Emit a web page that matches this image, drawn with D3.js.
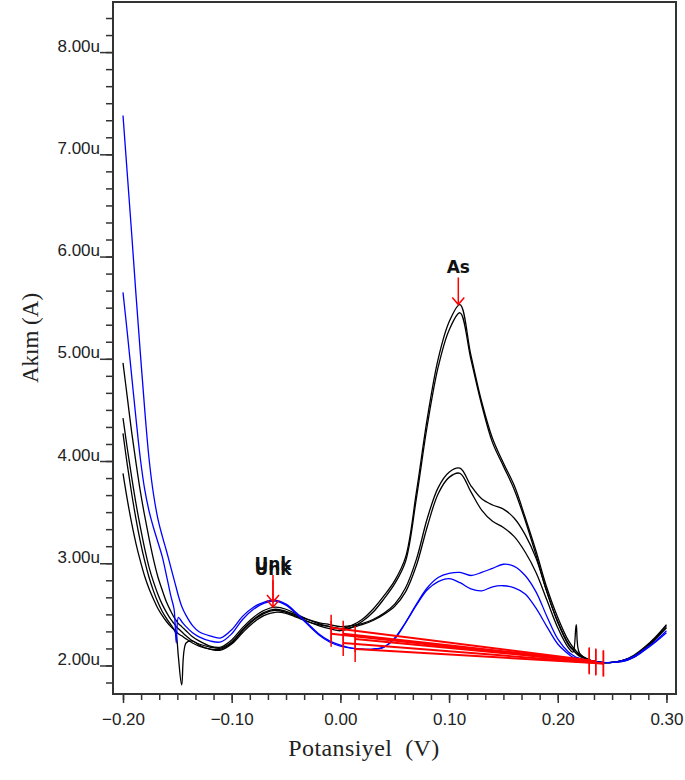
<!DOCTYPE html>
<html lang="en">
<head>
<meta charset="UTF-8">
<title>Akım - Potansiyel</title>
<script src="https://d3js.org/d3.v7.min.js"></script>
<style>
  body { margin: 0; background: #fff; }
  svg { display: block; }
  .tick text { font-family: "Liberation Sans", Arial, sans-serif; font-size: 17px; fill: #222; }
  .tick line { stroke: #333; stroke-width: 1.5; }
</style>
</head>
<body>
<div id="chart"></div>
<script>
// potential grid (V), shared by all scans
const potential = [
  -0.200, -0.196, -0.192, -0.188, -0.184, -0.180, -0.176, -0.172,
  -0.168, -0.164, -0.160, -0.156, -0.153, -0.151, -0.149, -0.146,
  -0.142, -0.136, -0.130, -0.120, -0.110, -0.100, -0.090, -0.080,
  -0.070, -0.060, -0.050, -0.040, -0.030, -0.020, -0.010, 0.000,
  0.010, 0.020, 0.030, 0.040, 0.050, 0.060, 0.070, 0.080,
  0.090, 0.100, 0.110, 0.120, 0.130, 0.140, 0.150, 0.160,
  0.170, 0.180, 0.190, 0.200, 0.210, 0.214, 0.217, 0.220,
  0.230, 0.240, 0.250, 0.260, 0.270, 0.280, 0.290, 0.300
];

// current (uA), black scans
const black1 = [
  4.96, 4.62, 4.28, 3.98, 3.70, 3.46, 3.24, 3.04,
  2.87, 2.74, 2.62, 2.53, 2.47, 2.44, 2.41, 2.38,
  2.34, 2.28, 2.24, 2.19, 2.18, 2.25, 2.37, 2.47,
  2.54, 2.57, 2.55, 2.50, 2.45, 2.41, 2.38, 2.36,
  2.39, 2.45, 2.55, 2.68, 2.83, 3.06, 3.70, 4.42,
  5.00, 5.36, 5.53, 5.04, 4.58, 4.22, 3.98, 3.76,
  3.45, 3.12, 2.76, 2.47, 2.24, 2.18, 2.14, 2.11,
  2.05, 2.03, 2.03, 2.05, 2.09, 2.17, 2.27, 2.39
];
const black2 = [
  4.42, 4.12, 3.84, 3.58, 3.35, 3.14, 2.96, 2.82,
  2.70, 2.60, 2.52, 2.45, 2.41, 2.38, 2.36, 2.33,
  2.29, 2.24, 2.21, 2.18, 2.17, 2.23, 2.35, 2.45,
  2.52, 2.55, 2.53, 2.49, 2.45, 2.42, 2.40, 2.38,
  2.39, 2.41, 2.45, 2.51, 2.60, 2.76, 3.04, 3.44,
  3.74, 3.89, 3.93, 3.76, 3.63, 3.57, 3.53, 3.44,
  3.28, 3.05, 2.72, 2.42, 2.20, 2.15, 2.12, 2.09,
  2.05, 2.03, 2.03, 2.05, 2.10, 2.18, 2.28, 2.40
];
const black3 = [
  4.27, 3.96, 3.68, 3.43, 3.21, 3.02, 2.86, 2.73,
  2.62, 2.53, 2.46, 2.40, 2.35, 2.30, 2.08, 1.81,
  2.22, 2.24, 2.20, 2.16, 2.16, 2.22, 2.34, 2.44,
  2.51, 2.54, 2.52, 2.48, 2.43, 2.39, 2.36, 2.34,
  2.37, 2.43, 2.52, 2.65, 2.80, 3.02, 3.64, 4.35,
  4.92, 5.28, 5.45, 5.00, 4.55, 4.18, 3.95, 3.72,
  3.42, 3.08, 2.72, 2.43, 2.21, 2.16, 2.12, 2.10,
  2.05, 2.03, 2.03, 2.05, 2.09, 2.16, 2.26, 2.37
];
const black4 = [
  3.88, 3.62, 3.39, 3.19, 3.02, 2.87, 2.75, 2.65,
  2.56, 2.49, 2.43, 2.38, 2.35, 2.33, 2.31, 2.29,
  2.26, 2.22, 2.19, 2.16, 2.15, 2.21, 2.32, 2.42,
  2.49, 2.52, 2.51, 2.47, 2.43, 2.40, 2.38, 2.36,
  2.37, 2.40, 2.44, 2.50, 2.58, 2.72, 2.98, 3.36,
  3.68, 3.84, 3.88, 3.70, 3.52, 3.41, 3.35, 3.26,
  3.11, 2.91, 2.64, 2.37, 2.17, 2.13, 2.40, 2.12,
  2.05, 2.03, 2.03, 2.04, 2.08, 2.16, 2.26, 2.37
];

// current (uA), blue scans
const blue1 = [
  7.38, 6.80, 6.22, 5.62, 5.05, 4.50, 4.02, 3.68,
  3.44, 3.27, 3.12, 2.96, 2.84, 2.76, 2.68, 2.58,
  2.49, 2.39, 2.33, 2.29, 2.27, 2.35, 2.48, 2.57,
  2.62, 2.64, 2.60, 2.51, 2.41, 2.31, 2.24, 2.20,
  2.17, 2.16, 2.16, 2.18, 2.26, 2.42, 2.60, 2.76,
  2.86, 2.90, 2.91, 2.88, 2.91, 2.95, 2.99, 2.97,
  2.88, 2.72, 2.48, 2.26, 2.13, 2.10, 2.08, 2.07,
  2.04, 2.03, 2.03, 2.05, 2.09, 2.16, 2.24, 2.34
];
const blue2 = [
  5.65, 5.25, 4.83, 4.41, 4.02, 3.72, 3.51, 3.35,
  3.21, 3.07, 2.88, 2.68, 2.55, 2.22, 2.47, 2.43,
  2.38, 2.32, 2.28, 2.24, 2.23, 2.31, 2.45, 2.55,
  2.61, 2.63, 2.59, 2.50, 2.40, 2.30, 2.23, 2.19,
  2.17, 2.16, 2.16, 2.18, 2.27, 2.42, 2.59, 2.74,
  2.82, 2.85, 2.81, 2.75, 2.73, 2.77, 2.78, 2.76,
  2.70, 2.56, 2.38, 2.21, 2.11, 2.08, 2.07, 2.06,
  2.04, 2.03, 2.03, 2.04, 2.08, 2.15, 2.23, 2.32
];

// red peak baselines (start/end points)
const baseStartX = [-0.0085, -0.0085, 0.0026, 0.0026, 0.0136, 0.0136];
const baseStartY = [2.37, 2.31, 2.31, 2.22, 2.26, 2.16];
const baseEndX   = [0.229, 0.235, 0.235, 0.242, 0.229, 0.242];
const baseEndY   = [2.05, 2.03, 2.04, 2.02, 2.04, 2.02];

// peak markers
const peakNames = ["Unk", "Unk", "As"];
const peakX = [-0.062, -0.062, 0.1085];
const peakY = [2.62, 2.57, 5.53];

// axis ticks
const xMajor = [-0.20, -0.10, 0.00, 0.10, 0.20, 0.30];
const yMajor = [2, 3, 4, 5, 6, 7, 8];

const width = 685, height = 780;
const plotL = 113, plotR = 676, plotT = 2, plotB = 694;

const svg = d3.select("#chart").append("svg")
  .attr("width", width)
  .attr("height", height);

const x = d3.scaleLinear().domain([-0.2092, 0.3088]).range([plotL, plotR]);
const y = d3.scaleLinear().domain([1.721, 8.49]).range([plotB, plotT]);

// minor ticks: 6 per major step
const xMinor = d3.range(-13, 19).map(i => i / 60).filter(v => v >= -0.2092 && v <= 0.3088);
const yMinor = d3.range(10, 52).map(i => i / 6).filter(v => v >= 1.721 && v <= 8.49);

// x axis
svg.append("g")
  .attr("transform", `translate(0,${plotB})`)
  .call(d3.axisBottom(x).tickValues(xMinor).tickSize(6).tickFormat(""))
  .call(g => g.select(".domain").remove());
svg.append("g")
  .attr("transform", `translate(0,${plotB})`)
  .call(d3.axisBottom(x).tickValues(xMajor).tickSize(9).tickPadding(10).tickFormat(d3.format(".2f")))
  .call(g => g.select(".domain").remove());

// y axis
svg.append("g")
  .attr("transform", `translate(${plotL},0)`)
  .call(d3.axisLeft(y).tickValues(yMinor).tickSize(7).tickFormat(""))
  .call(g => g.select(".domain").remove());
svg.append("g")
  .attr("transform", `translate(${plotL},0)`)
  .call(d3.axisLeft(y).tickValues(yMajor).tickSize(13).tickPadding(0).tickFormat(d => d.toFixed(2) + "u"))
  .call(g => g.select(".domain").remove())
  .call(g => g.selectAll("text").attr("dy", "-1px"));

// frame
svg.append("rect")
  .attr("x", plotL).attr("y", plotT)
  .attr("width", plotR - plotL).attr("height", plotB - plotT)
  .attr("fill", "none").attr("stroke", "#333").attr("stroke-width", 2);

// scans
const scans = [
  { values: black1, color: "#000" },
  { values: black2, color: "#000" },
  { values: black3, color: "#000" },
  { values: black4, color: "#000" },
  { values: blue1, color: "#0000ff" },
  { values: blue2, color: "#0000ff" }
];

const line = d3.line()
  .x((d, i) => x(potential[i]))
  .y(d => y(d))
  .curve(d3.curveCatmullRom.alpha(0.5));

svg.append("g")
  .selectAll("path")
  .data(scans)
  .join("path")
  .attr("d", d => line(d.values))
  .attr("fill", "none")
  .attr("stroke", d => d.color)
  .attr("stroke-width", 1.3);

// baselines
const red = "#ff0000";
const bases = baseStartX.map((v, i) => ({ x0: v, y0: baseStartY[i], x1: baseEndX[i], y1: baseEndY[i] }));
const gBase = svg.append("g");
gBase.selectAll("line.base")
  .data(bases)
  .join("line")
  .attr("class", "base")
  .attr("x1", d => x(d.x0)).attr("y1", d => y(d.y0))
  .attr("x2", d => x(d.x1)).attr("y2", d => y(d.y1))
  .attr("stroke", red).attr("stroke-width", 2);

const ends = bases.flatMap(d => [[d.x0, d.y0], [d.x1, d.y1]]);
gBase.selectAll("line.mark")
  .data(ends)
  .join("line")
  .attr("class", "mark")
  .attr("x1", d => x(d[0])).attr("x2", d => x(d[0]))
  .attr("y1", d => y(d[1]) - 13).attr("y2", d => y(d[1]) + 13)
  .attr("stroke", red).attr("stroke-width", 1.5);

// peak arrows + names (the two Unk names overprint, as in the instrument output)
const peaks = peakNames.map((n, i) => ({ name: n, px: x(peakX[i]), py: y(peakY[i]) }));
const gPeak = svg.append("g");
gPeak.selectAll("path")
  .data(peaks)
  .join("path")
  .attr("d", d => `M${d.px},${d.py - 27}V${d.py}M${d.px - 6},${d.py - 7}L${d.px},${d.py}L${d.px + 6},${d.py - 7}`)
  .attr("fill", "none")
  .attr("stroke", red).attr("stroke-width", 1.5);
gPeak.selectAll("text")
  .data(peaks)
  .join("text")
  .attr("x", d => d.px)
  .attr("y", d => d.py - 32)
  .attr("text-anchor", "middle")
  .attr("font-family", "'DejaVu Sans', sans-serif")
  .attr("font-weight", "bold")
  .attr("font-size", 17)
  .attr("fill", "#111")
  .text(d => d.name);

// axis titles
svg.append("text")
  .attr("x", 364).attr("y", 756)
  .attr("text-anchor", "middle")
  .attr("font-family", "'Liberation Serif', 'Times New Roman', serif")
  .attr("font-size", 24)
  .attr("letter-spacing", 0.4)
  .attr("fill", "#222")
  .style("white-space", "pre")
  .text("Potansiyel  (V)");

svg.append("text")
  .attr("transform", "translate(38,338) rotate(-90)")
  .attr("text-anchor", "middle")
  .attr("font-family", "'Liberation Serif', 'Times New Roman', serif")
  .attr("font-size", 23)
  .attr("fill", "#222")
  .text("Akım (A)");
</script>
</body>
</html>
